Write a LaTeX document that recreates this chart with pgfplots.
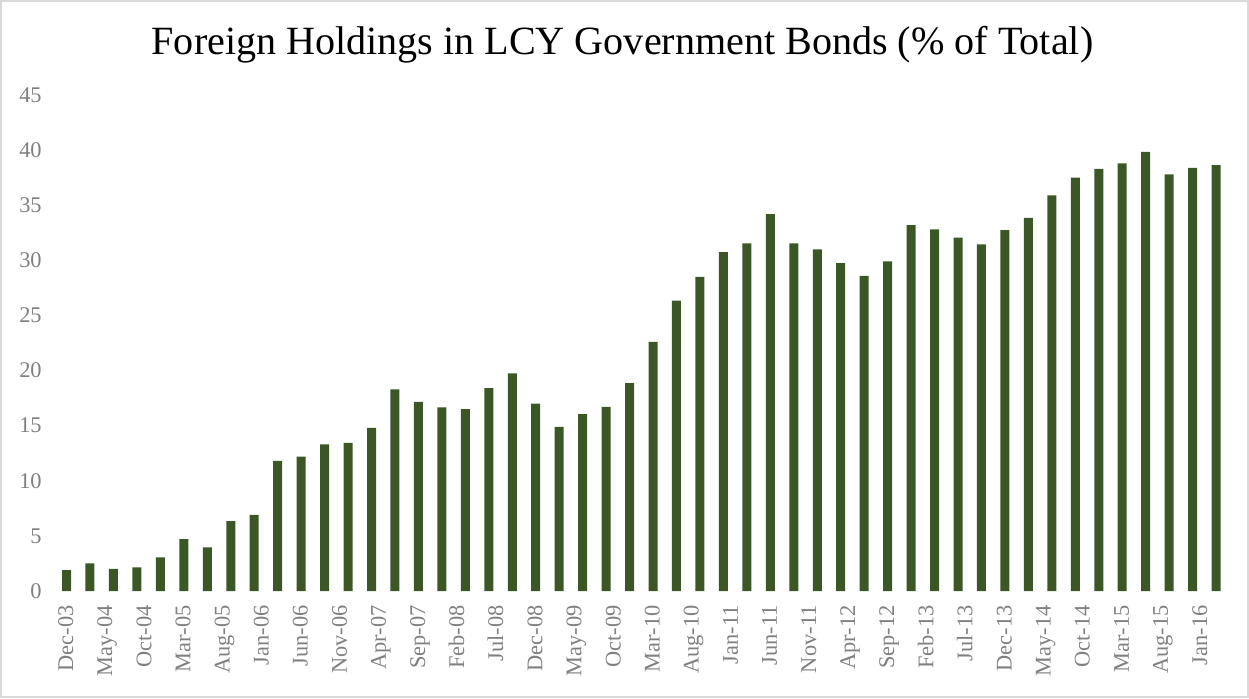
\documentclass[border=0pt]{standalone}
\usepackage{fontspec}
\setmainfont{Liberation Serif}
\usepackage{pgfplots}
\pgfplotsset{compat=1.18}
\definecolor{bargreen}{HTML}{3A5725}
\definecolor{tickgray}{HTML}{808080}
\definecolor{framegray}{HTML}{D9D9D9}
\begin{document}
\begin{tikzpicture}
\useasboundingbox (0,0) rectangle (624.5pt,349pt);
\draw[framegray, line width=1pt] (0.6pt,0.6pt) rectangle (623.9pt,348.4pt);
\node[anchor=base, font=\fontsize{20.05}{22}\selectfont, text=black] at (311.25pt,321.9pt) {Foreign Holdings in LCY Government Bonds (\% of Total)};
\begin{axis}[
  at={(25.45pt,53.5pt)}, anchor=south west,
  scale only axis, width=590.4pt, height=248pt,
  xmin=-2, xmax=149, ymin=0, ymax=45,
  ytick={0,5,...,45},
  xtick={0,5,...,145},
  xticklabels={Dec-03,May-04,Oct-04,Mar-05,Aug-05,Jan-06,Jun-06,Nov-06,Apr-07,Sep-07,Feb-08,Jul-08,Dec-08,May-09,Oct-09,Mar-10,Aug-10,Jan-11,Jun-11,Nov-11,Apr-12,Sep-12,Feb-13,Jul-13,Dec-13,May-14,Oct-14,Mar-15,Aug-15,Jan-16},
  axis line style={draw=none},
  major tick length=0pt,
  tick style={draw=none},
  /pgf/number format/assume math mode=true,
  ticklabel style={font=\fontsize{11.2}{13}\selectfont, text=tickgray},
  xticklabel style={rotate=90, anchor=east, inner sep=0pt, text height=0.66em, text depth=0pt, xshift=-7pt},
  yticklabel style={anchor=east, inner sep=0pt, xshift=-4.4pt},
  ybar, bar width=4.5pt, bar shift=0pt,
]
\addplot[fill=bargreen, draw=none] coordinates {
(0,1.9) (3,2.5) (6,2.0) (9,2.15) (12,3.05) (15,4.7) (18,3.95) (21,6.35) (24,6.9) (27,11.8)
(30,12.2) (33,13.3) (36,13.45) (39,14.8) (42,18.3) (45,17.15) (48,16.65) (51,16.5) (54,18.4) (57,19.75)
(60,17.0) (63,14.9) (66,16.05) (69,16.7) (72,18.85) (75,22.6) (78,26.35) (81,28.5) (84,30.75) (87,31.55)
(90,34.2) (93,31.55) (96,31.0) (99,29.75) (102,28.6) (105,29.9) (108,33.2) (111,32.8) (114,32.05) (117,31.45)
(120,32.75) (123,33.85) (126,35.9) (129,37.5) (132,38.3) (135,38.8) (138,39.85) (141,37.8) (144,38.4) (147,38.65)
};
\end{axis}
\end{tikzpicture}
\end{document}
